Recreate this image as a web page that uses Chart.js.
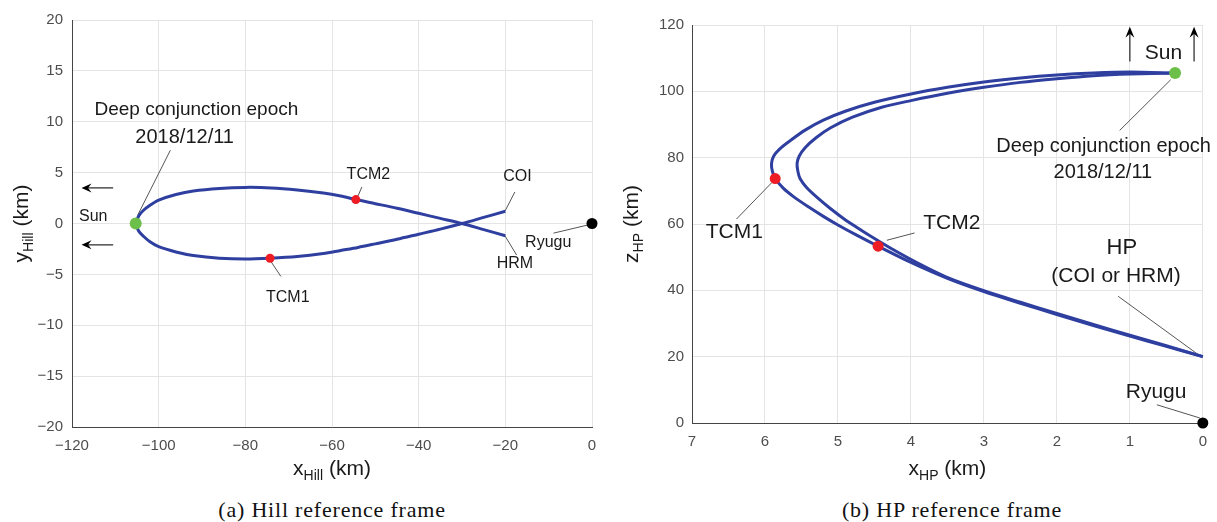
<!DOCTYPE html>
<html lang="en">
<head>
    <meta charset="UTF-8">
    <title>Hill and HP reference frames</title>
    <script src="https://cdn.jsdelivr.net/npm/chart.js"></script>
    <style>
        body { margin: 0; background: #fff; }
        .wrap { position: relative; width: 1217px; height: 522px; overflow: hidden; }
        canvas { position: absolute; top: 0; }
        .cap { position: absolute; top: 497px; width: 440px; text-align: center; letter-spacing: 0.8px;
               font-family: "Liberation Serif", "DejaVu Serif", serif; font-size: 22px; color: #111; }
    </style>
</head>
<body>
<div class="wrap">
    <canvas id="hillChart" width="610" height="490" style="left:0"></canvas>
    <canvas id="hpChart" width="607" height="490" style="left:610px"></canvas>
    <div class="cap" style="left:112px">(a) Hill reference frame</div>
    <div class="cap" style="left:732px">(b) HP reference frame</div>
</div>

<script>
    // Hill frame: tick values
    const hillXTicks = [-120, -100, -80, -60, -40, -20, 0];
    const hillYTicks = [-20, -15, -10, -5, 0, 5, 10, 15, 20];

    // Hill frame trajectory, deep conjunction -> HRM (upper leg)
    const hillUpX = [-105.3, -104.6, -103.5, -102, -100, -96, -92, -86, -80, -74, -68, -62, -58, -54.5, -50, -45, -40, -35, -30, -25, -20];
    const hillUpY = [0, 0.75, 1.3, 1.8, 2.3, 2.85, 3.2, 3.45, 3.55, 3.5, 3.3, 3.0, 2.7, 2.35, 1.95, 1.5, 1.0, 0.5, 0.0, -0.6, -1.2];
    // COI -> deep conjunction (lower leg)
    const hillLowX = [-20, -25, -30, -35, -40, -45, -50, -54, -58, -62, -68, -74.3, -80, -86, -92, -96, -100, -102, -103.5, -104.6, -105.3];
    const hillLowY = [1.2, 0.6, 0.0, -0.55, -1.05, -1.55, -2.0, -2.35, -2.65, -2.95, -3.25, -3.42, -3.5, -3.42, -3.15, -2.8, -2.28, -1.8, -1.25, -0.75, 0];

    // Hill frame events: deep conjunction, TCM1, TCM2, Ryugu
    const hillEventX = [-105.3, -74.3, -54.5, 0];
    const hillEventY = [0, -3.42, 2.35, 0];

    // HP frame: tick values
    const hpXTicks = [7, 6, 5, 4, 3, 2, 1, 0];
    const hpZTicks = [0, 20, 40, 60, 80, 100, 120];

    // HP frame trajectories, HP -> deep conjunction
    const hpOutX = [0, 0.5, 1.0, 1.5, 2.0, 2.5, 3.0, 3.5, 4.0, 4.45, 4.75, 5.0, 5.2, 5.4, 5.6, 5.75, 5.86, 5.9, 5.91, 5.88, 5.8, 5.65, 5.45, 5.2, 4.9, 4.5, 4.0, 3.5, 3.0, 2.5, 2.0, 1.5, 1.0, 0.38];
    const hpOutZ = [20, 23.1, 26.2, 29.4, 32.7, 36.1, 39.6, 43.6, 48.4, 53.3, 56.7, 59.7, 62.3, 65.1, 68.1, 70.8, 73.7, 76, 78.3, 80.5, 82.6, 85.2, 88.3, 91.3, 94.0, 96.7, 99.2, 101.2, 102.8, 104.0, 104.9, 105.5, 105.8, 105.5];
    const hpInX = [0, 0.5, 1.0, 1.5, 2.0, 2.5, 3.0, 3.47, 3.92, 4.3, 4.55, 4.75, 4.92, 5.1, 5.29, 5.43, 5.52, 5.55, 5.56, 5.53, 5.45, 5.3, 5.1, 4.8, 4.4, 4.0, 3.5, 3.0, 2.5, 2.0, 1.5, 1.0, 0.38];
    const hpInZ = [20, 23.3, 26.5, 29.7, 33.0, 36.4, 39.9, 43.6, 48.4, 53.0, 56.3, 59.1, 61.6, 64.6, 68.1, 71.0, 73.7, 76, 78.3, 80.5, 83, 86, 89, 92.2, 95.2, 97.2, 99.4, 101.2, 102.7, 103.8, 104.7, 105.2, 105.5];

    // HP frame events: deep conjunction, TCM1, TCM2, Ryugu
    const hpEventX = [0.38, 5.86, 4.45, 0];
    const hpEventZ = [105.5, 73.7, 53.3, 0];

    const eventColors = ['#6cc04a', '#ee1c25', '#ee1c25', '#000000'];
    const lineBlue = '#2f3f9f';
    const sans = '"Liberation Sans", Arial, sans-serif';

    function pts(xs, ys) {
        return xs.map((x, i) => ({ x: x, y: ys[i] }));
    }

    function minusFmt(v) {
        return String(v).replace('-', '\u2212');
    }

    // leader lines, arrows, labels and subscripted axis titles
    const notesPlugin = {
        id: 'notes',
        beforeDatasetsDraw(chart, args, o) {
            const ctx = chart.ctx, sx = chart.scales.x, sy = chart.scales.y;
            ctx.save();
            ctx.strokeStyle = '#555';
            ctx.lineWidth = 1;
            (o.leaders || []).forEach(l => {
                ctx.beginPath();
                ctx.moveTo(sx.getPixelForValue(l[0]), sy.getPixelForValue(l[1]));
                ctx.lineTo(sx.getPixelForValue(l[2]), sy.getPixelForValue(l[3]));
                ctx.stroke();
            });
            ctx.restore();
        },
        afterDraw(chart, args, o) {
            const ctx = chart.ctx, sx = chart.scales.x, sy = chart.scales.y;
            ctx.save();
            // arrows: tail -> tip
            (o.arrows || []).forEach(a => {
                const x1 = sx.getPixelForValue(a[0]), y1 = sy.getPixelForValue(a[1]);
                const x2 = sx.getPixelForValue(a[2]), y2 = sy.getPixelForValue(a[3]);
                const ang = Math.atan2(y2 - y1, x2 - x1);
                const hl = o.headLen || 10, hw = o.headW || 4.5;
                ctx.strokeStyle = '#333';
                ctx.lineWidth = 1.3;
                ctx.beginPath();
                ctx.moveTo(x1, y1);
                ctx.lineTo(x2 - Math.cos(ang) * 4, y2 - Math.sin(ang) * 4);
                ctx.stroke();
                ctx.fillStyle = '#000';
                ctx.translate(x2, y2);
                ctx.rotate(ang);
                ctx.beginPath();
                ctx.moveTo(0, 0);
                ctx.lineTo(-hl, -hw);
                ctx.lineTo(-hl * 0.65, 0);
                ctx.lineTo(-hl, hw);
                ctx.closePath();
                ctx.fill();
                ctx.setTransform(1, 0, 0, 1, 0, 0);
            });
            // labels
            ctx.fillStyle = '#1a1a1a';
            ctx.textAlign = 'center';
            ctx.textBaseline = 'middle';
            (o.texts || []).forEach(t => {
                ctx.font = t.size + 'px ' + sans;
                ctx.fillText(t.text, sx.getPixelForValue(t.x), sy.getPixelForValue(t.y));
            });
            // axis titles with subscripts
            const ca = chart.chartArea;
            drawSubTitle(ctx, (ca.left + ca.right) / 2, chart.height - 21, o.xTitle, false);
            drawSubTitle(ctx, 22, (ca.top + ca.bottom) / 2, o.yTitle, true);
            ctx.restore();
        }
    };

    function drawSubTitle(ctx, cx, cy, t, rotate) {
        const size = 21, subSize = 14;
        ctx.save();
        ctx.translate(cx, cy);
        if (rotate) ctx.rotate(-Math.PI / 2);
        ctx.fillStyle = '#1a1a1a';
        ctx.textAlign = 'left';
        ctx.textBaseline = 'alphabetic';
        ctx.font = size + 'px ' + sans;
        const w1 = ctx.measureText(t[0]).width;
        const w3 = ctx.measureText(t[2]).width;
        ctx.font = subSize + 'px ' + sans;
        const w2 = ctx.measureText(t[1]).width;
        const x0 = -(w1 + w2 + w3) / 2;
        const base = 6;
        ctx.font = size + 'px ' + sans;
        ctx.fillText(t[0], x0, base);
        ctx.font = subSize + 'px ' + sans;
        ctx.fillText(t[1], x0 + w1, base + 5);
        ctx.font = size + 'px ' + sans;
        ctx.fillText(t[2], x0 + w1 + w2, base);
        ctx.restore();
    }

    function eventSets(xs, ys, radii) {
        return xs.map((x, i) => ({
            data: [{ x: x, y: ys[i] }],
            showLine: false,
            pointRadius: radii[i],
            pointBackgroundColor: eventColors[i],
            pointBorderWidth: 0,
            clip: false,
            order: 0
        }));
    }

    function lineSet(data) {
        return {
            data: data,
            showLine: true,
            borderColor: lineBlue,
            borderWidth: 3,
            pointRadius: 0,
            tension: 0.3,
            clip: false,
            order: 1
        };
    }

    function axisCommon(ticksArr, pad) {
        return {
            type: 'linear',
            min: Math.min(...ticksArr),
            max: Math.max(...ticksArr),
            afterBuildTicks: s => { s.ticks = ticksArr.map(v => ({ value: v })); },
            grid: { color: '#e4e4e4', lineWidth: 1, drawTicks: false },
            border: { color: '#444', width: 1 },
            ticks: {
                padding: pad,
                color: '#4d4d4d',
                font: { family: sans, size: 15 },
                callback: v => minusFmt(v)
            }
        };
    }

    function initializeCharts() {
        // Hill reference frame
        const hx = axisCommon(hillXTicks, 10);
        hx.afterFit = s => { s.height = 63; };
        const hy = axisCommon(hillYTicks, 9);
        hy.afterFit = s => { s.width = 72; };

        new Chart(document.getElementById('hillChart'), {
            type: 'scatter',
            data: {
                datasets: eventSets(hillEventX, hillEventY, [6, 4.5, 4.5, 5.5]).concat([
                    lineSet(pts(hillUpX, hillUpY)),
                    lineSet(pts(hillLowX, hillLowY))
                ])
            },
            options: {
                responsive: false,
                animation: false,
                layout: { padding: { left: 0, right: 18, top: 20, bottom: 0 } },
                scales: { x: hx, y: hy },
                plugins: {
                    legend: { display: false },
                    tooltip: { enabled: false },
                    notes: {
                        leaders: [
                            [-104.8, 0.85, -97.3, 7.2],
                            [-54.3, 2.4, -53.1, 3.6],
                            [-74.3, -3.6, -71.8, -5.2],
                            [-20.1, 1.2, -17.8, 3.1],
                            [-20.1, -1.2, -17.4, -3.1],
                            [-8.9, -0.95, -0.5, -0.1]
                        ],
                        arrows: [
                            [-110.5, 3.5, -117.8, 3.5],
                            [-110.5, -2.1, -117.8, -2.1]
                        ],
                        headLen: 10, headW: 4.5,
                        texts: [
                            { text: 'Deep conjunction epoch', x: -91.3, y: 11.2, size: 19 },
                            { text: '2018/12/11', x: -94, y: 8.5, size: 20 },
                            { text: 'Sun', x: -115.1, y: 0.7, size: 16 },
                            { text: 'TCM2', x: -51.6, y: 4.8, size: 16 },
                            { text: 'TCM1', x: -70.2, y: -7.3, size: 16 },
                            { text: 'COI', x: -17.2, y: 4.6, size: 16 },
                            { text: 'HRM', x: -17.8, y: -3.9, size: 16 },
                            { text: 'Ryugu', x: -10.1, y: -1.9, size: 16 }
                        ],
                        xTitle: ['x', 'Hill', ' (km)'],
                        yTitle: ['y', 'Hill', ' (km)']
                    }
                }
            },
            plugins: [notesPlugin]
        });

        // HP reference frame
        const px = axisCommon(hpXTicks, 10);
        px.reverse = true;
        px.afterFit = s => { s.height = 67; };
        const pz = axisCommon(hpZTicks, 8);
        pz.afterFit = s => { s.width = 82; };

        new Chart(document.getElementById('hpChart'), {
            type: 'scatter',
            data: {
                datasets: eventSets(hpEventX, hpEventZ, [6, 5.5, 5.5, 5.5]).concat([
                    lineSet(pts(hpOutX, hpOutZ)),
                    lineSet(pts(hpInX, hpInZ))
                ])
            },
            options: {
                responsive: false,
                animation: false,
                layout: { padding: { left: 0, right: 5, top: 25, bottom: 0 } },
                scales: { x: px, y: pz },
                plugins: {
                    legend: { display: false },
                    tooltip: { enabled: false },
                    notes: {
                        leaders: [
                            [0.44, 103.5, 1.14, 88.2],
                            [5.91, 72.4, 6.39, 61.5],
                            [4.33, 55.1, 3.95, 57.3],
                            [1.16, 38.2, 0.03, 20.1],
                            [0.63, 5.5, 0.04, 1.5]
                        ],
                        arrows: [
                            [1.0, 109, 1.0, 119.5],
                            [0.12, 109, 0.12, 119.5]
                        ],
                        headLen: 11, headW: 4.5,
                        texts: [
                            { text: 'Sun', x: 0.54, y: 111.6, size: 21 },
                            { text: 'Deep conjunction epoch', x: 1.36, y: 83.4, size: 20 },
                            { text: '2018/12/11', x: 1.37, y: 75.6, size: 20 },
                            { text: 'TCM1', x: 6.42, y: 57.5, size: 21 },
                            { text: 'TCM2', x: 3.44, y: 60.1, size: 21 },
                            { text: 'HP', x: 1.11, y: 52.8, size: 22 },
                            { text: '(COI or HRM)', x: 1.19, y: 44.2, size: 21 },
                            { text: 'Ryugu', x: 0.64, y: 9.3, size: 21 }
                        ],
                        xTitle: ['x', 'HP', ' (km)'],
                        yTitle: ['z', 'HP', ' (km)']
                    }
                }
            },
            plugins: [notesPlugin]
        });
    }

    document.addEventListener('DOMContentLoaded', initializeCharts);
</script>
</body>
</html>
